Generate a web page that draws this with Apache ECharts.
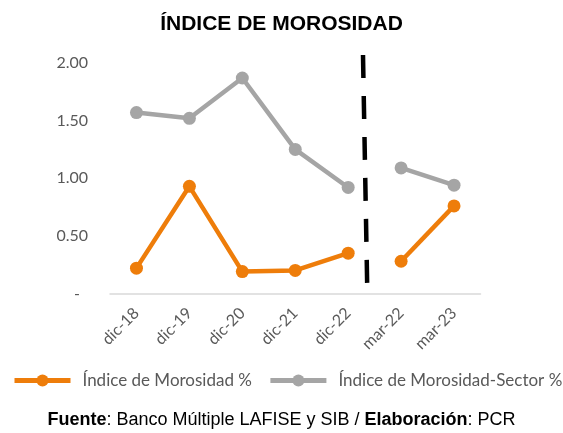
<!DOCTYPE html>
<html>
<head>
<meta charset="utf-8">
<script src="https://cdn.jsdelivr.net/npm/echarts@6/dist/echarts.min.js"></script>
<style>
  html, body { margin: 0; padding: 0; background: #fff; }
  #chart { width: 563px; height: 433px; }
</style>
</head>
<body>
<div id="chart"></div>
<script>
const periodos = ['dic-18', 'dic-19', 'dic-20', 'dic-21', 'dic-22', 'mar-22', 'mar-23'];
const morosidad = [0.22, 0.93, 0.19, 0.20, 0.35, 0.28, 0.76];
const morosidadSector = [1.57, 1.52, 1.87, 1.25, 0.92, 1.09, 0.94];
const corte = 5; // la línea se corta entre dic-22 y mar-22
const divisor = [[4.28, 2.07], [4.36, 0.05]];

const naranja = '#EE7D0A';
const gris = '#A5A5A5';
const textoGris = '#595959';
const fuente = 'Lato, "Open Sans", sans-serif';
const arial = '"Liberation Sans", Arial, sans-serif';

// parte un arreglo en dos tramos con nulls
function tramo(arr, desde, hasta) {
  return arr.map((v, i) => (i >= desde && i < hasta ? v : null));
}

function serieLinea(nombre, color, datos) {
  return {
    name: nombre,
    type: 'line',
    data: datos,
    color: color,
    symbol: 'circle',
    symbolSize: 13,
    lineStyle: { width: 4.5, color: color },
    itemStyle: { color: color },
    connectNulls: false,
    animation: false,
  };
}

const chart = echarts.init(document.getElementById('chart'));

const option = {
  title: [
    {
      text: 'ÍNDICE DE MOROSIDAD',
      left: 'center',
      top: 9,
      textStyle: { fontFamily: arial, fontSize: 21, fontWeight: 'bold', color: '#000' },
    },
    {
      text: '{b|Fuente}: Banco Múltiple LAFISE y SIB / {b|Elaboración}: PCR',
      left: 'center',
      top: 411,
      padding: 0,
      textStyle: {
        fontFamily: arial, fontSize: 18, fontWeight: 'normal', color: '#000',
        rich: { b: { fontFamily: arial, fontSize: 18, fontWeight: 'bold', color: '#000' } },
      },
    },
  ],
  legend: {
    top: 372,
    left: 12,
    padding: 0,
    itemWidth: 56,
    itemHeight: 15,
    itemGap: 16,
    lineStyle: { width: 5 },
    textStyle: { fontFamily: fuente, fontSize: 17, color: textoGris, padding: [0, 0, 0, 7] },
    data: ['Índice de Morosidad %', 'Índice de Morosidad-Sector %'],
  },
  grid: { left: 110, right: 82.5, top: 63, bottom: 139.5, containLabel: false },
  xAxis: [
    {
      type: 'category',
      data: periodos,
      boundaryGap: true,
      axisLine: { lineStyle: { color: '#D9D9D9', width: 1.5 } },
      axisTick: { show: false },
      axisLabel: { rotate: 45, margin: 17, fontFamily: fuente, fontSize: 16, color: textoGris },
    },
    { type: 'value', min: -0.5, max: 6.5, show: false },
  ],
  yAxis: {
    type: 'value',
    min: 0,
    max: 2,
    interval: 0.5,
    axisLine: { show: false },
    axisTick: { show: false },
    splitLine: { show: false },
    axisLabel: {
      margin: 22,
      fontFamily: fuente,
      fontSize: 16,
      color: textoGris,
      formatter: v => (v === 0 ? '{d|-}' : v.toFixed(2)),
      rich: { d: { fontFamily: fuente, fontSize: 16, color: textoGris, padding: [0, 8, 0, 0] } },
    },
  },
  series: [
    serieLinea('Índice de Morosidad %', naranja, tramo(morosidad, 0, corte)),
    serieLinea('Índice de Morosidad %', naranja, tramo(morosidad, corte, periodos.length)),
    serieLinea('Índice de Morosidad-Sector %', gris, tramo(morosidadSector, 0, corte)),
    serieLinea('Índice de Morosidad-Sector %', gris, tramo(morosidadSector, corte, periodos.length)),
    {
      name: 'divisor',
      type: 'line',
      xAxisIndex: 1,
      data: divisor,
      symbol: 'none',
      clip: false,
      silent: true,
      lineStyle: { color: '#000', width: 4.5, type: [23, 18] },
      animation: false,
    },
  ],
};

chart.setOption(option);
</script>
</body>
</html>
